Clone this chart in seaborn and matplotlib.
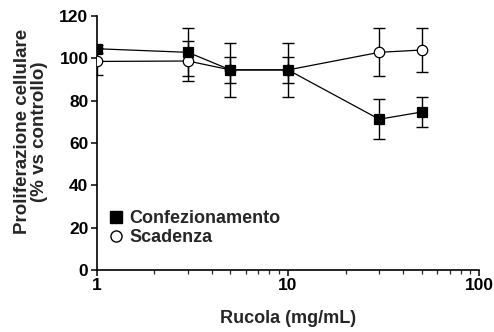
import matplotlib
matplotlib.use("Agg")
import matplotlib.pyplot as plt
import seaborn as sns
import pandas as pd
import numpy as np
from matplotlib.ticker import NullFormatter, LogLocator
from matplotlib.lines import Line2D

# Data
conc = [1, 3, 5, 10, 30, 50]
conf_mean = [104.5, 102.8, 94.5, 94.5, 71.2, 74.6]
conf_err = [2.0, 11.4, 12.6, 12.6, 9.5, 7.0]
scad_mean = [98.5, 98.7, 94.5, 94.5, 102.8, 103.9]
scad_err = [6.4, 9.6, 6.0, 6.0, 11.4, 10.2]
series_names = ["Confezionamento", "Scadenza"]
y_ticks = [0, 20, 40, 60, 80, 100, 120]
x_ticks = [1, 10, 100]
x_tick_labels = ["1", "10", "100"]

sns.set_style("ticks")
plt.rcParams['font.family'] = ['Liberation Sans', 'DejaVu Sans']
plt.rcParams['font.weight'] = 'bold'

df = pd.DataFrame({
    "conc": conc * 2,
    "val": scad_mean + conf_mean,
    "err": scad_err + conf_err,
    "series": [series_names[1]] * len(conc) + [series_names[0]] * len(conc),
})

fig = plt.figure(figsize=(4.94, 3.32), dpi=100)
ax = fig.add_axes([0.196, 0.187, 0.774, 0.765])

styles = {
    series_names[1]: dict(marker="o", mfc="white"),
    series_names[0]: dict(marker="s", mfc="black"),
}
for name in [series_names[1], series_names[0]]:
    sub = df[df.series == name]
    ax.errorbar(sub.conc, sub.val, yerr=sub.err, fmt="none", ecolor="black",
                elinewidth=1.0, capsize=4, capthick=1.0, zorder=2)
    sns.lineplot(data=sub, x="conc", y="val", ax=ax, color="black", lw=0.9,
                 marker=styles[name]["marker"], markersize=7.5,
                 markerfacecolor=styles[name]["mfc"], markeredgecolor="black",
                 markeredgewidth=0.9, zorder=3, legend=False)

ax.set_xscale("log")
ax.set_xlim(1, 100)
ax.set_ylim(0, 120)
ax.set_yticks(y_ticks)
ax.set_xticks(x_ticks)
ax.set_xticklabels(x_tick_labels)
ax.xaxis.set_minor_locator(LogLocator(base=10, subs=np.arange(2, 10)))
ax.xaxis.set_minor_formatter(NullFormatter())
for sp in ["top", "right"]:
    ax.spines[sp].set_visible(False)
for sp in ["left", "bottom"]:
    ax.spines[sp].set_linewidth(1.2)
    ax.spines[sp].set_color("black")
ax.tick_params(axis="both", which="major", direction="out", length=4, width=1.1,
               labelsize=12.5, colors="black", pad=2)
ax.tick_params(axis="x", which="minor", direction="out", length=3, width=0.9)
for lab in ax.get_xticklabels() + ax.get_yticklabels():
    lab.set_fontweight("bold")

ax.set_xlabel("Rucola (mg/mL)", fontsize=13, fontweight="bold", labelpad=12)
ax.set_ylabel("Proliferazione cellulare\n(% vs controllo)", fontsize=13.5,
              fontweight="bold", linespacing=1.0)
ax.yaxis.set_label_coords(-0.128, 0.545)

handles = [
    Line2D([], [], ls="none", marker="s", mfc="black", mec="black", markersize=8),
    Line2D([], [], ls="none", marker="o", mfc="white", mec="black", markersize=8),
]
leg = ax.legend(handles, series_names, loc="lower left", bbox_to_anchor=(-0.01, 0.045),
                frameon=False, handletextpad=0.1, handlelength=1.2, labelspacing=0.1,
                prop=dict(weight="bold", size=13), borderaxespad=0.3)

fig.savefig("out.png", dpi=100)
